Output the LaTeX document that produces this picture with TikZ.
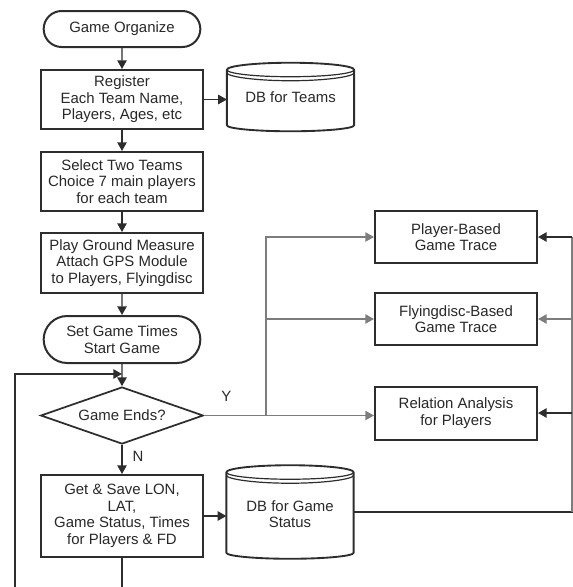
\documentclass[tikz,border=0pt]{standalone}
\usepackage{fontspec}
\setmainfont{Liberation Sans}
\usepackage{tikz}
\usetikzlibrary{shapes.geometric, shapes.misc, arrows.meta, positioning, calc}
\definecolor{linegray}{RGB}{45,45,45}
\definecolor{branchgray}{RGB}{125,125,125}
\definecolor{textgray}{RGB}{40,40,40}
% data store outline around an (invisible) node: lid, two rims, bottom
\newcommand{\DBshape}[1]{%
  \draw[dbline] ($(#1.north west)+(0,7)$) .. controls +(0,-3.9) and +(-35,0) .. (#1.north)
      .. controls +(35,0) and +(0,-3.9) .. ($(#1.north east)+(0,7)$)
      -- ($(#1.south east)+(0,-6)$) .. controls +(0,3.3) and +(35,0) .. (#1.south)
      .. controls +(-35,0) and +(0,3.3) .. ($(#1.south west)+(0,-6)$) -- cycle;
  \draw[dbline, line width=0.9pt] ($(#1.north west)+(0,7)$) .. controls +(0,3.9) and +(-35,0) .. ($(#1.north)+(0,14)$)
      .. controls +(35,0) and +(0,3.9) .. ($(#1.north east)+(0,7)$);
  \draw[dbline, line width=0.9pt] ($(#1.north west)+(0,10)$) .. controls +(0,3.9) and +(-35,0) .. ($(#1.north)+(0,18)$)
      .. controls +(35,0) and +(0,3.9) .. ($(#1.north east)+(0,10)$);
}
% text lowered inside a data store, box size kept
\newcommand{\DBtext}[2]{\raisebox{#1}[\height][\depth]{\begin{tabular}{@{}c@{}}#2\end{tabular}}}

\begin{document}
\begin{tikzpicture}[
    x=0.75pt, y=-0.75pt,
    font=\fontsize{11.2}{12.4}\selectfont,
    process/.style={draw=linegray, line width=1.5pt, fill=white, minimum width=121.5pt, align=center, text=textgray, inner sep=2pt},
    term/.style={rounded rectangle, draw=linegray, line width=1.5pt, minimum width=121.5pt, align=center, text=textgray, inner sep=2pt},
    decision/.style={diamond, aspect=2.86, draw=linegray, line width=1.3pt, minimum width=122pt, minimum height=42.75pt, text=textgray, inner sep=0pt},
    dbstore/.style={minimum width=95pt, text=textgray, inner sep=0pt},
    dbline/.style={draw=linegray, line width=1.4pt},
    flow/.style={draw=linegray, line width=1.1pt, -{Triangle[length=6.5pt, width=7pt]}},
    branch/.style={draw=branchgray, line width=1pt, -{Triangle[length=6.5pt, width=7pt]}},
    back/.style={draw=linegray, line width=1.2pt, -{Triangle[length=6.5pt, width=7pt]}}
]
    \useasboundingbox (0,0) rectangle (573,587);
    \clip (0,0) rectangle (573,587);

    % Main column
    \node[term, minimum height=27pt] (org) at (122,29) {Game Organize};
    \node[process, minimum height=44.25pt] (reg) at (122,99.5) {Register\\Each Team Name,\\Players, Ages, etc};
    \node[process, minimum height=44.25pt] (sel) at (122,181.5) {Select  Two  Teams\\Choice 7 main players\\for each team};
    \node[process, minimum height=45pt] (play) at (122,263) {Play Ground Measure\\Attach  GPS  Module\\to Players, Flyingdisc};
    \node[term, minimum height=35.25pt] (set) at (122,339.5) {Set Game Times\\Start  Game};
    \node[decision] (dia) at (122,415.5) {Game Ends?};
    \node[process, minimum height=61.5pt] (get) at (122,516) {Get  \& Save LON,\\LAT,\\Game  Status, Times\\for  Players \& FD};

    % Data stores
    \node[dbstore, minimum height=51pt] (dbteams) at (290.5,97) {\DBtext{-1.5pt}{DB for Teams}};
    \DBshape{dbteams}
    \node[dbstore, minimum height=69.75pt] (dbgame) at (290,512) {\DBtext{-3pt}{DB for Game\\Status}};
    \DBshape{dbgame}

    % Analysis boxes
    \node[process, minimum height=39pt] (pbt) at (456,237) {Player-Based\\Game Trace};
    \node[process, minimum height=39pt] (fbt) at (456,319) {Flyingdisc-Based\\Game  Trace};
    \node[process, minimum height=39.75pt] (rel) at (456,413) {Relation Analysis\\for Players};

    \coordinate (join) at (122,374);
    \coordinate (loopl) at (15,374);
    \coordinate (ybr) at (266,415);
    \coordinate (rtop) at (572,237);

    % Connectors
    \draw[flow] (org) -- (reg);
    \draw[flow] (reg) -- (sel);
    \draw[flow] (sel) -- (play);
    \draw[flow] (play) -- (set);
    \draw[flow] (set) -- (dia);
    \draw[flow] (dia) -- node[right=4pt, pos=0.4, text=textgray] {N} (get);
    \draw[flow] (reg.east) -- (reg.east -| dbteams.west);
    \draw[flow] (get.east) -- (get.east -| dbgame.west);
    \draw[back] (get.south) -- ++(0,40) -| (loopl) -- (join);

    % Y branch
    \draw[branch] (dia.east) -- node[above=7pt, pos=0.13, text=textgray] {Y} (dia.east -| rel.west);
    \draw[branch] (ybr) |- (pbt.west);
    \draw[branch] (ybr |- fbt.west) -- (fbt.west);

    % Feedback from status store
    \draw[draw=linegray, line width=1.2pt] (dbgame.east) -| (rtop);
    \draw[draw=branchgray, line width=1pt] (rtop) -- (rtop |- dbgame.east);
    \draw[back] (rtop) -- (pbt.east);
    \draw[branch] (rtop |- fbt.east) -- (fbt.east);
    \draw[back] (rtop |- rel.east) -- (rel.east);
\end{tikzpicture}
\end{document}
